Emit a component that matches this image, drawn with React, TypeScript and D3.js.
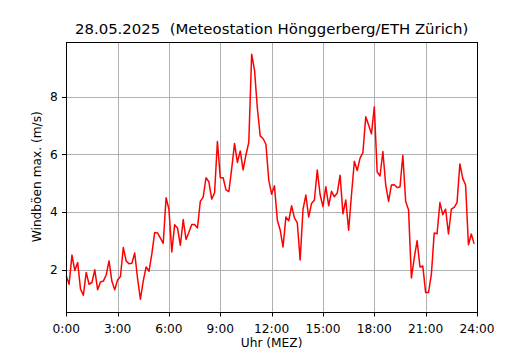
import React, { useEffect, useRef } from "react";
import * as d3 from "d3";

const title = "28.05.2025  (Meteostation Hönggerberg/ETH Zürich)";
const xLabel = "Uhr (MEZ)";
const yLabel = "Windböen max. (m/s)";
const xTickHours = [0, 3, 6, 9, 12, 15, 18, 21, 24];
const xTickLabels = ["0:00", "3:00", "6:00", "9:00", "12:00", "15:00", "18:00", "21:00", "24:00"];
const yTicks = [2, 4, 6, 8];

// 10-minute wind gust maxima (m/s), 00:00 .. 23:50
const gusts = [
  1.79, 1.5, 2.51, 1.98, 2.25, 1.33, 1.12, 1.91, 1.5, 1.56, 2.0, 1.31,
  1.58, 1.61, 1.82, 2.31, 1.6, 1.31, 1.65, 1.77, 2.77, 2.31, 2.21, 2.23,
  2.58, 1.7, 0.98, 1.62, 2.1, 1.95, 2.55, 3.29, 3.28, 3.1, 2.92, 4.5,
  4.1, 2.62, 3.56, 3.45, 2.85, 3.74, 3.05, 3.3, 3.57, 3.57, 3.45, 4.37,
  4.52, 5.19, 5.05, 4.45, 4.67, 6.45, 5.19, 5.19, 4.77, 4.71, 5.5, 6.38,
  5.72, 6.12, 5.46, 5.98, 6.42, 9.47, 8.92, 7.6, 6.64, 6.55, 6.35, 5.11,
  4.62, 4.91, 3.72, 3.38, 2.79, 3.83, 3.7, 4.22, 3.8, 3.63, 2.34, 4.09,
  4.59, 3.83, 4.3, 4.42, 5.46, 4.6, 4.19, 4.88, 4.22, 4.72, 4.53, 4.66,
  5.28, 3.94, 4.42, 3.37, 4.6, 5.76, 5.44, 5.87, 6.06, 7.3, 7.02, 6.71,
  7.65, 5.39, 5.25, 6.1, 4.94, 4.37, 4.94, 4.95, 4.85, 4.87, 5.97, 4.37,
  4.08, 1.72, 2.41, 3.01, 2.1, 2.13, 1.21, 1.21, 1.84, 3.28, 3.25, 4.33,
  3.91, 4.1, 3.24, 4.1, 4.16, 4.33, 5.67, 5.17, 4.94, 2.87, 3.24, 2.9,
];
const stepMinutes = 10;

const W = 530;
const H = 350;
const M = { left: 66.25, right: 477, top: 42, bottom: 311.5 };
const FONT = "'DejaVu Sans', sans-serif";

export default function App() {
  const ref = useRef<SVGSVGElement>(null);

  useEffect(() => {
    const svg = d3.select(ref.current);
    svg.selectAll("*").remove();

    const x = d3.scaleLinear().domain([0, 24]).range([M.left, M.right]);
    const yMin = d3.min(gusts)!;
    const yMax = d3.max(gusts)!;
    const pad = (yMax - yMin) * 0.05;
    const y = d3.scaleLinear().domain([yMin - pad, yMax + pad]).range([M.bottom, M.top]);

    svg.append("rect").attr("width", W).attr("height", H).attr("fill", "white");

    // grid
    const grid = svg.append("g").attr("stroke", "#b0b0b0").attr("stroke-width", 1);
    xTickHours.forEach((h) => {
      const px = Math.round(x(h)) + 0.5;
      grid.append("line").attr("x1", px).attr("x2", px).attr("y1", M.top).attr("y2", M.bottom);
    });
    yTicks.forEach((v) => {
      const py = Math.round(y(v)) + 0.5;
      grid.append("line").attr("x1", M.left).attr("x2", M.right).attr("y1", py).attr("y2", py);
    });

    // data line
    const line = d3
      .line<number>()
      .x((_, i) => x((i * stepMinutes) / 60))
      .y((d) => y(d));
    svg
      .append("path")
      .datum(gusts)
      .attr("d", line)
      .attr("fill", "none")
      .attr("stroke", "#ff0000")
      .attr("stroke-width", 1.5)
      .attr("stroke-linejoin", "round");

    // frame
    svg
      .append("rect")
      .attr("x", Math.round(M.left) + 0.5)
      .attr("y", Math.round(M.top) + 0.5)
      .attr("width", Math.round(M.right) - Math.round(M.left))
      .attr("height", Math.round(M.bottom) - Math.round(M.top))
      .attr("fill", "none")
      .attr("stroke", "black")
      .attr("stroke-width", 1);

    // x ticks
    const xt = svg.append("g");
    xTickHours.forEach((h, i) => {
      const px = Math.round(x(h)) + 0.5;
      xt.append("line")
        .attr("x1", px).attr("x2", px)
        .attr("y1", Math.round(M.bottom)).attr("y2", Math.round(M.bottom) + 4.5)
        .attr("stroke", "black").attr("stroke-width", 1);
      xt.append("text")
        .attr("x", x(h)).attr("y", 333)
        .attr("text-anchor", "middle")
        .attr("font-family", FONT).attr("font-size", 12.2)
        .attr("fill", "black")
        .text(xTickLabels[i]);
    });

    // y ticks
    const yt = svg.append("g");
    yTicks.forEach((v) => {
      const py = Math.round(y(v)) + 0.5;
      yt.append("line")
        .attr("x1", Math.round(M.left) - 4).attr("x2", Math.round(M.left))
        .attr("y1", py).attr("y2", py)
        .attr("stroke", "black").attr("stroke-width", 1);
      yt.append("text")
        .attr("x", M.left - 8.6).attr("y", y(v))
        .attr("dy", "0.36em")
        .attr("text-anchor", "end")
        .attr("font-family", FONT).attr("font-size", 12.2)
        .attr("fill", "black")
        .text(String(v));
    });

    // labels
    svg.append("text")
      .attr("x", (M.left + M.right) / 2).attr("y", 347)
      .attr("text-anchor", "middle")
      .attr("font-family", FONT).attr("font-size", 12.2)
      .attr("fill", "black")
      .text(xLabel);

    svg.append("text")
      .attr("transform", `translate(41, ${(M.top + M.bottom) / 2}) rotate(-90)`)
      .attr("text-anchor", "middle")
      .attr("font-family", FONT).attr("font-size", 12.2)
      .attr("fill", "black")
      .text(yLabel);

    svg.append("text")
      .attr("x", (M.left + M.right) / 2).attr("y", 33.5)
      .attr("text-anchor", "middle")
      .attr("font-family", FONT).attr("font-size", 14.9)
      .attr("fill", "black")
      .style("white-space", "pre")
      .attr("xml:space", "preserve")
      .text(title);
  }, []);

  return (
    <svg
      ref={ref}
      width={W}
      height={H}
      style={{ position: "absolute", left: 0, top: 0, display: "block" }}
    />
  );
}
